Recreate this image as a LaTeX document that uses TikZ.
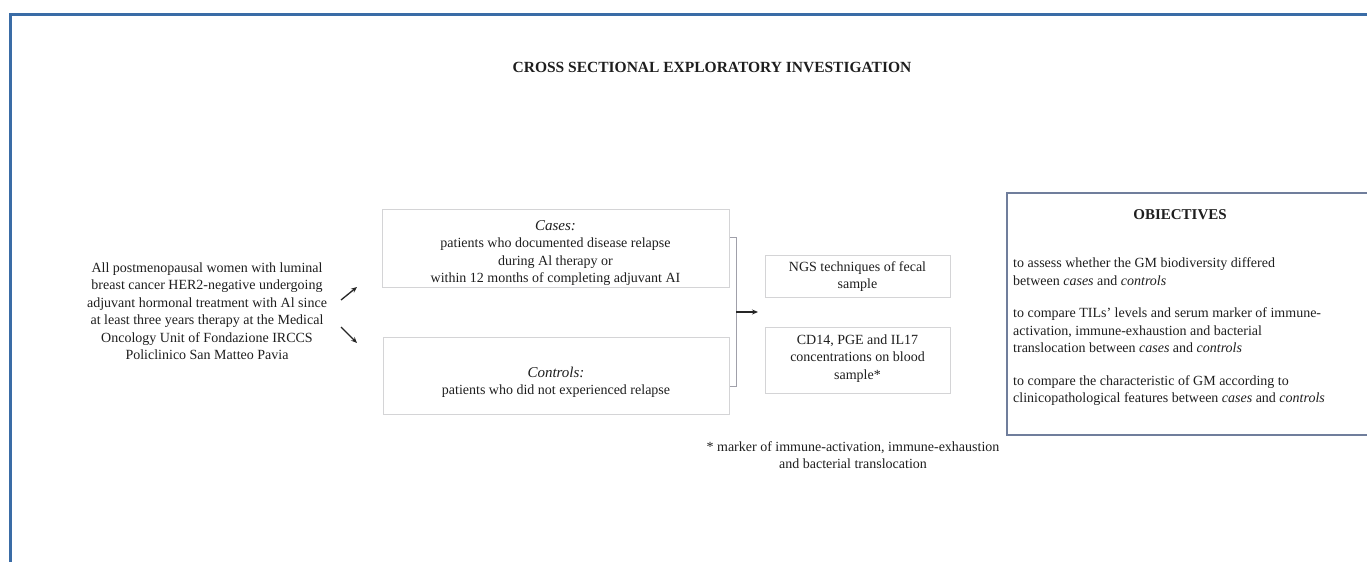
\documentclass[tikz,border=0pt]{standalone}
\usepackage{fontspec}
\setmainfont{Liberation Serif}
\usetikzlibrary{arrows.meta}
\definecolor{frameblue}{RGB}{58,108,166}
\definecolor{boxgrey}{RGB}{212,212,214}
\definecolor{objblue}{RGB}{112,126,156}
\definecolor{bracketgrey}{RGB}{160,160,170}
\definecolor{inkgrey}{RGB}{30,30,30}
\newcommand\hdtext[1]{{\fontsize{15}{17.5}\selectfont\itshape #1}}
\begin{document}
\begin{tikzpicture}[x=1pt,y=-1pt,
  txt/.style={font=\fontsize{14}{17.5}\selectfont, align=center, inner sep=0pt, text=inkgrey},
  ltxt/.style={font=\fontsize{14}{17.5}\selectfont, align=left, inner sep=0pt, anchor=west, text=inkgrey},
  box/.style={draw=boxgrey, line width=1pt, inner sep=0pt},
  arr/.style={-{Stealth[length=6pt,width=5pt]}, line width=1.3pt, draw=black!85}
]
\useasboundingbox (0,0) rectangle (1367,562);
% outer frame
\draw[frameblue, line width=3pt] (1367,14.5) -- (10.5,14.5) -- (10.5,562);

% title
\node[txt, font=\fontsize{15.5}{18}\selectfont\bfseries] (title) at (712,67) {CROSS SECTIONAL EXPLORATORY INVESTIGATION};

% population
\node[txt] (pop) at (207,311) {All postmenopausal women with luminal\\breast cancer HER2-negative undergoing\\adjuvant hormonal treatment with Al since\\at least three years therapy at the Medical\\Oncology Unit of Fondazione IRCCS\\Policlinico San Matteo Pavia};

% small arrows
\coordinate (a1s) at (341,300);
\coordinate (a1e) at (357,287);
\coordinate (a2s) at (341,327);
\coordinate (a2e) at (357,343);
\draw[arr] (a1s) -- (a1e);
\draw[arr] (a2s) -- (a2e);

% cases / controls boxes
\node[box, minimum width=347, minimum height=78] (casesbox) at (555.5,248) {};
\node[txt] (cases) at (555.5,253) {\hdtext{Cases:}\\patients who documented disease relapse\\during Al therapy or\\within 12 months of completing adjuvant AI};
\node[box, minimum width=346, minimum height=77] (ctrlbox) at (556,375.5) {};
\node[txt] (ctrl) at (556,382.5) {\hdtext{Controls:}\\patients who did not experienced relapse};

% bracket
\coordinate (bt) at (736,237);
\coordinate (bb) at (736,386);
\draw[bracketgrey, line width=1pt] (730,237) -- (bt) -- (bb) -- (730,386);
\coordinate (bm) at (736,312);
\coordinate (be) at (758,312);
\draw[arr] (bm) -- (be);

% methods boxes
\node[box, minimum width=185, minimum height=42] (ngsbox) at (857.5,276) {};
\node[txt] (ngs) at (857.5,276.5) {NGS techniques of fecal\\sample};
\node[box, minimum width=185, minimum height=66] (cdbox) at (857.5,360) {};
\node[txt] (cd) at (857.5,358.5) {CD14, PGE and IL17\\concentrations on blood\\sample*};

% footnote
\node[txt] (foot) at (853,455) {* marker of immune-activation, immune-exhaustion\\and bacterial translocation};

% objectives
\draw[objblue, line width=2pt] (1370,193) -- (1007,193) -- (1007,435) -- (1370,435);
\node[txt, font=\fontsize{15}{18}\selectfont\bfseries] (objt) at (1180,215) {OBIECTIVES};
\node[ltxt] (o1) at (1013,271.5) {to assess whether the GM biodiversity differed\\between \textit{cases} and \textit{controls}};
\node[ltxt] (o2) at (1013,330.5) {to compare TILs' levels and serum marker of immune-\\activation, immune-exhaustion and bacterial\\translocation between \textit{cases} and \textit{controls}};
\node[ltxt] (o3) at (1013,390.5) {to compare the characteristic of GM according to\\clinicopathological features between \textit{cases} and \textit{controls}};
\end{tikzpicture}
\end{document}
